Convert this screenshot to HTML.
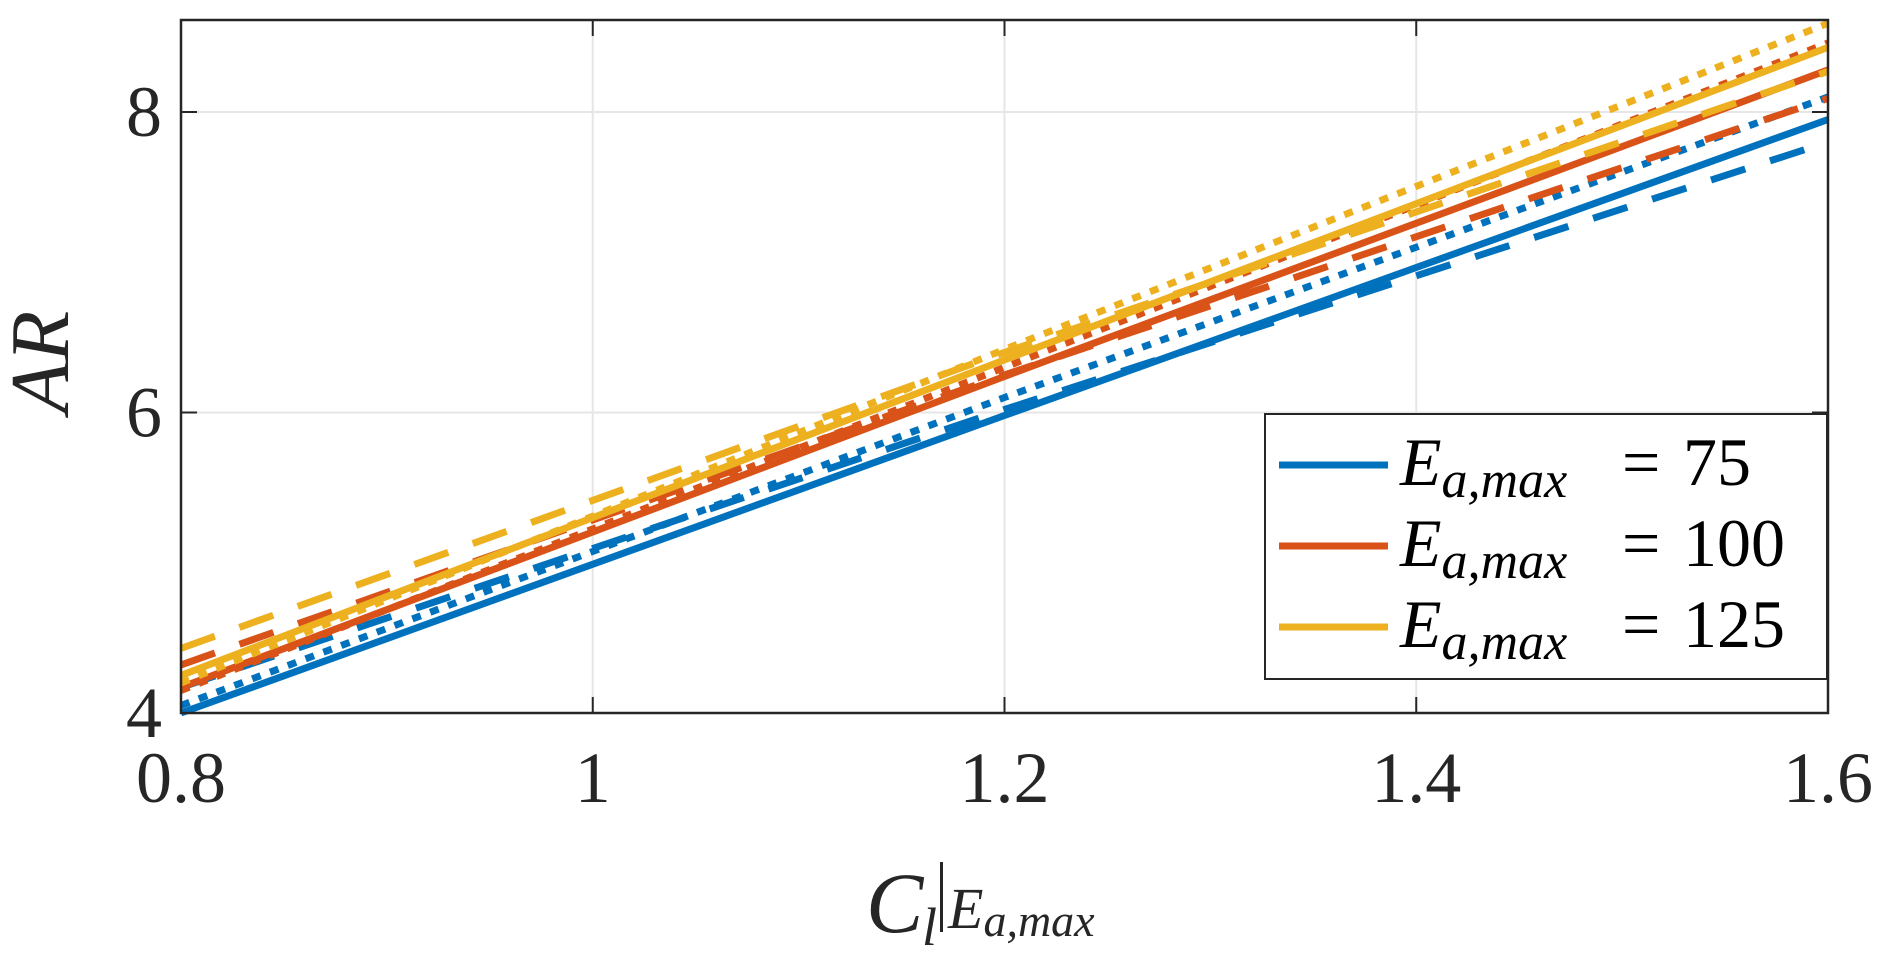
<!DOCTYPE html>
<html><head><meta charset="utf-8"><style>
body{margin:0;background:#fff;}
svg{display:block;font-family:"Liberation Serif",serif;}
</style></head><body>
<svg id="chart" width="1892" height="954">
<g id="grid"></g>
<g id="series"></g>
<g id="axes"></g>
<text x="68" y="362" font-size="84" font-style="italic" fill="#262626" text-anchor="middle" transform="rotate(-90 68 362)">AR</text>
<g fill="#262626">
<text x="866" y="932" font-size="86" font-style="italic">C</text>
<text x="922" y="945" font-size="54" font-style="italic">l</text>
<rect x="940" y="862" width="3" height="70"/>
<text x="948" y="928" font-size="58" font-style="italic">E<tspan font-size="46" dy="8">a,max</tspan></text>
</g>
<g id="legend"></g>
</svg>
<script>
const xs = [0.8, 1.2, 1.6];
const seriesNames = ["75-solid","75-dashed","75-dotted","100-solid","100-dashed","100-dotted","125-solid","125-dashed","125-dotted"];
const blueSolid = [4.00, 5.98, 7.95];
const blueDashed = [4.17, 6.02, 7.80];
const blueDotted = [4.05, 6.10, 8.10];
const redSolid = [4.17, 6.24, 8.28];
const redDashed = [4.32, 6.25, 8.09];
const redDotted = [4.15, 6.30, 8.46];
const yellowSolid = [4.25, 6.35, 8.43];
const yellowDashed = [4.43, 6.40, 8.27];
const yellowDotted = [4.20, 6.42, 8.59];
const xTicks = [0.8, 1, 1.2, 1.4, 1.6];
const xTickLabels = ["0.8","1","1.2","1.4","1.6"];
const yTicks = [4, 6, 8];
const yTickLabels = ["4","6","8"];
const legendLabels = ["75","100","125"];

const L=181,R=1828,T=20,B=713;
const X0=0.8,X1=1.6,Y0=4,Y1=4+(B-T)/150.25;
const sx=v=>L+(v-X0)/(X1-X0)*(R-L);
const sy=v=>B-(v-Y0)/(Y1-Y0)*(B-T);
const NS="http://www.w3.org/2000/svg";
function mk(tag,attrs,parent){const e=document.createElementNS(NS,tag);for(const k in attrs)e.setAttribute(k,attrs[k]);parent.appendChild(e);return e;}
const grid=document.getElementById('grid'),ser=document.getElementById('series'),ax=document.getElementById('axes'),leg=document.getElementById('legend');
xTicks.forEach((t,i)=>{
 if(i>0&&i<xTicks.length-1){const g=mk('line',{x1:sx(t),x2:sx(t),y1:T,y2:B,stroke:'#e6e6e6','stroke-width':2},grid);
 
 }
 const tk=mk('path',{d:`M${sx(t)},${B}v-16M${sx(t)},${T}v16`,stroke:'#262626','stroke-width':2},ax);
 
 
 const tx=mk('text',{x:sx(t),y:802,'font-size':72,fill:'#262626','text-anchor':'middle'},ax);tx.textContent=xTickLabels[i];
 
 
});
yTicks.forEach((t,i)=>{
 if(i>0){const g=mk('line',{x1:L,x2:R,y1:sy(t),y2:sy(t),stroke:'#e6e6e6','stroke-width':2},grid);
 
 }
 const tk=mk('path',{d:`M${L},${sy(t)}h16M${R},${sy(t)}h-16`,stroke:'#262626','stroke-width':2},ax);
 
 
 const tx=mk('text',{x:162,y:sy(t)+24,'font-size':72,fill:'#262626','text-anchor':'end'},ax);tx.textContent=yTickLabels[i];
 
 
});
const box=mk('rect',{x:L,y:T,width:R-L,height:B-T,fill:'none',stroke:'#262626','stroke-width':2.5},ax);


const colors=['#0072BD','#D95319','#EDB120'];
const dashes={solid:'',dashed:'36,26',dotted:'9,10'};
const data=[blueSolid,blueDashed,blueDotted,redSolid,redDashed,redDotted,yellowSolid,yellowDashed,yellowDotted];
data.forEach((vals,i)=>{
 const c=colors[Math.floor(i/3)],st=['solid','dashed','dotted'][i%3];
 const d=vals.map((v,j)=>(j?'L':'M')+sx(xs[j])+','+sy(v)).join('');
 const p=mk('path',{d,fill:'none',stroke:c,'stroke-width':7,'stroke-dasharray':dashes[st]},ser);
 
 
});
const lb=mk('rect',{x:1265,y:414,width:562,height:265,fill:'#fff',stroke:'#262626','stroke-width':2},leg);


legendLabels.forEach((lab,i)=>{
 const y=465+i*81;
 const g=mk('g',{},leg);
 
 
 mk('line',{x1:1279,x2:1388,y1:y,y2:y,stroke:colors[i],'stroke-width':7},g);
 const t=mk('text',{x:1400,y:y+20,'font-size':68,fill:'#000'},g);
 t.innerHTML='<tspan font-style="italic">E</tspan><tspan font-style="italic" font-size="52" dy="12">a,max</tspan>';
 const eq=mk('text',{x:1622,y:y+20,'font-size':68,fill:'#000'},g);
 eq.textContent='=';
 const n=mk('text',{x:1683,y:y+20,'font-size':68,fill:'#000'},g);
 n.textContent=lab;
});
</script>
</body></html>
